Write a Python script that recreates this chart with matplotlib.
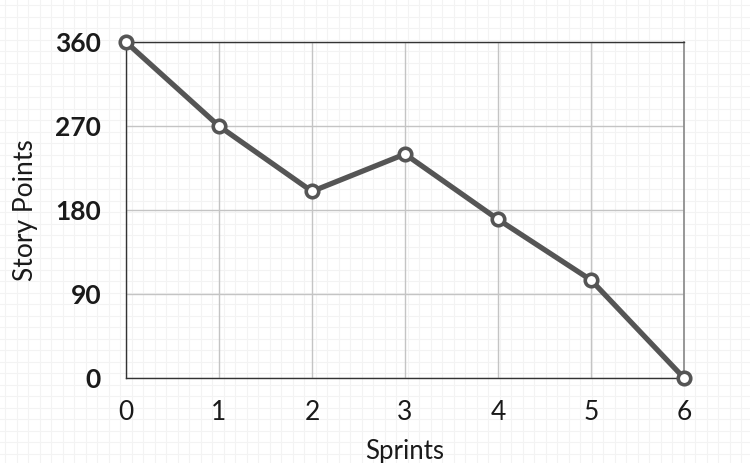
import numpy as np
import matplotlib.pyplot as plt

# burndown data
sprints = [0, 1, 2, 3, 4, 5, 6]
story_points = [360, 270, 200, 240, 170, 105, 0]
y_ticks = [0, 90, 180, 270, 360]

plt.rcParams['font.family'] = ['Lato', 'DejaVu Sans']

fig = plt.figure(figsize=(7.5, 4.63), dpi=100)
fig.patch.set_facecolor('white')

# faint graph-paper background over the whole figure
bg = fig.add_axes([0, 0, 1, 1], zorder=-10)
bg.set_xlim(0, 750)
bg.set_ylim(463, 0)
for gx in np.arange(5, 750, 11.5):
    bg.axvline(gx, color='#f3f3f3', lw=0.8)
for gy in np.arange(5, 463, 11.5):
    bg.axhline(gy, color='#f3f3f3', lw=0.8)
bg.axis('off')

ax = fig.add_axes([0.168, 0.1836, 0.744, 0.7254])
ax.patch.set_alpha(0)

ax.plot(sprints, story_points, color='#555555', lw=3.8, zorder=3,
        marker='o', markersize=9, markerfacecolor='white',
        markeredgecolor='#555555', markeredgewidth=2.6, clip_on=False)

ax.set_xlim(0, 6)
ax.set_ylim(0, 360)
ax.set_xticks(sprints)
ax.set_yticks(y_ticks)
ax.grid(True, color='#c4c4c4', lw=1.0)
ax.set_axisbelow(True)

for side in ['left', 'bottom', 'top']:
    ax.spines[side].set_color('#333333')
    ax.spines[side].set_linewidth(1.0)
ax.spines['right'].set_color('#888888')
ax.spines['right'].set_linewidth(1.2)

ax.tick_params(axis='both', length=0)
ax.tick_params(axis='x', labelsize=19, pad=16, colors='#1a1a1a')
ax.tick_params(axis='y', labelsize=19, pad=18, colors='#1a1a1a')
for lbl in ax.get_yticklabels():
    lbl.set_fontweight('bold')

ax.set_xlabel('Sprints', fontsize=18.5, color='#1a1a1a', labelpad=10)
ax.set_ylabel('Story Points', fontsize=19, color='#1a1a1a', labelpad=12)

fig.savefig('out.png', dpi=100)
